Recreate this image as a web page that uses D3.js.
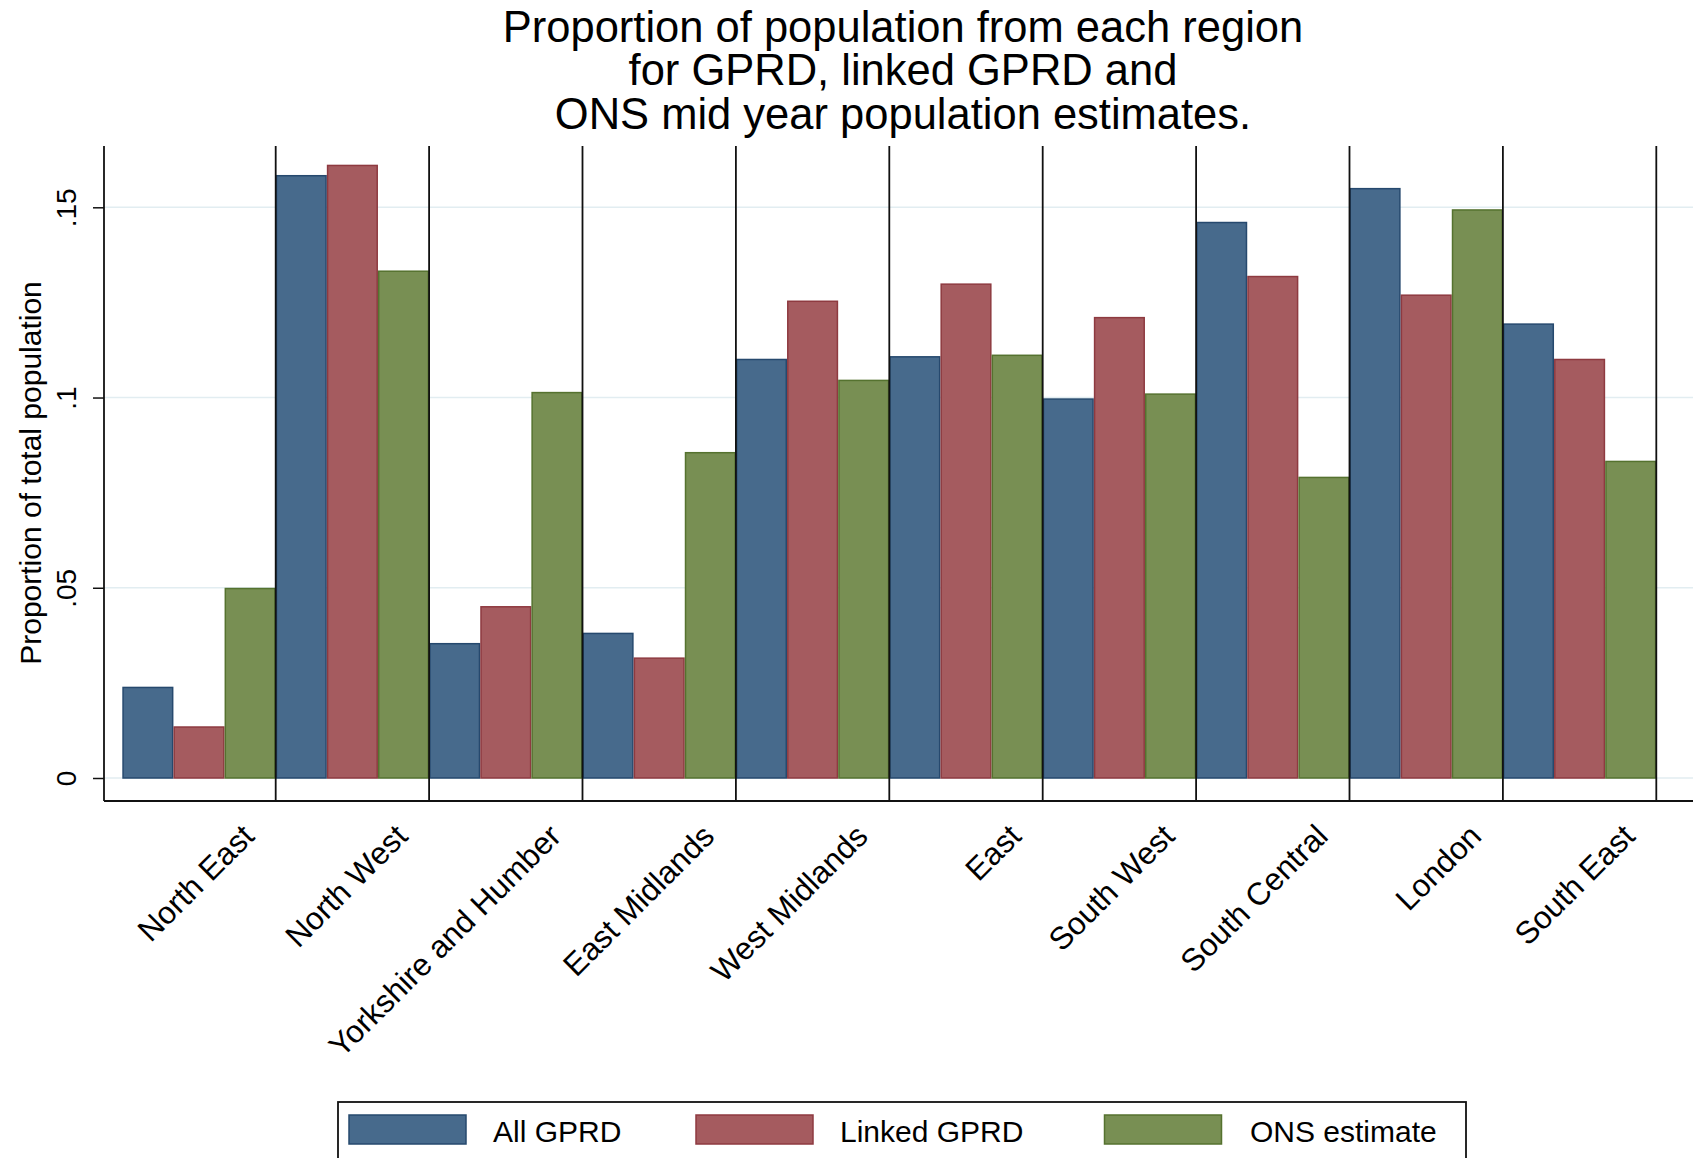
<!DOCTYPE html>
<html>
<head>
<meta charset="utf-8">
<script src="https://cdn.jsdelivr.net/npm/d3@7"></script>
<style>
  body { margin: 0; background: #fff; }
  svg { display: block; font-family: "Liberation Sans", Arial, sans-serif; }
</style>
</head>
<body>
<div class="g-graphic"></div>
<script>
var regions = ["North East", "North West", "Yorkshire and Humber", "East Midlands", "West Midlands",
    "East", "South West", "South Central", "London", "South East"];

var seriesNames = ["All GPRD", "Linked GPRD", "ONS estimate"];

var allGPRD    = [0.0238, 0.1583, 0.0353, 0.0380, 0.1100, 0.1107, 0.0996, 0.1460, 0.1549, 0.1193];
var linkedGPRD = [0.0134, 0.1610, 0.0450, 0.0315, 0.1253, 0.1298, 0.1210, 0.1318, 0.1269, 0.1100];
var onsEstimate = [0.0498, 0.1332, 0.1013, 0.0855, 0.1045, 0.1111, 0.1009, 0.0790, 0.1493, 0.0832];

var yTicks = [0, 0.05, 0.1, 0.15];
var yTickLabels = ["0", ".05", ".1", ".15"];

var titleLines = ["Proportion of population from each region", "for GPRD, linked GPRD and",
    "ONS mid year population estimates."];

(function(d3) {
    "use strict";

    var width = 1693,
    height = 1158,
    plot = { left: 104, right: 1693, top: 146, bottom: 801 },
    barsLeft = 122.3,
    barsRight = 1656.3;

    var fills = ["#476a8c", "#a55b5f", "#788f53"],
    strokes = ["#26496e", "#8e3a40", "#55722f"];

    var data = regions.map(function(r, i) {
        return { region: r, values: [allGPRD[i], linkedGPRD[i], onsEstimate[i]] };
    });

    var x0 = d3.scaleBand().domain(regions).range([barsLeft, barsRight]).padding(0);
    var x1 = d3.scaleBand().domain(d3.range(seriesNames.length)).range([0, x0.bandwidth()]).padding(0);
    var y = d3.scaleLinear().domain([0, 0.15]).range([778, 207.3]);

    var svg = d3.select(".g-graphic").append("svg")
        .attr("width", width)
        .attr("height", height);

    // title
    svg.append("text")
        .attr("x", 903)
        .attr("y", 41.7)
        .attr("text-anchor", "middle")
        .style("font-size", "43.5px")
        .selectAll("tspan")
        .data(titleLines)
        .join("tspan")
        .attr("x", 903)
        .attr("dy", function(d, i) { return i === 0 ? 0 : 43.4; })
        .text(function(d) { return d; });

    // grid lines
    svg.append("g")
        .selectAll("line")
        .data(yTicks)
        .join("line")
        .attr("x1", plot.left)
        .attr("x2", plot.right)
        .attr("y1", function(d) { return y(d); })
        .attr("y2", function(d) { return y(d); })
        .attr("stroke", "#e2edf1")
        .attr("stroke-width", 1.6);

    // bars
    var groups = svg.append("g")
        .selectAll("g")
        .data(data)
        .join("g")
        .attr("transform", function(d) { return "translate(" + x0(d.region) + ",0)"; });

    groups.selectAll("rect")
        .data(function(d) { return d.values; })
        .join("rect")
        .attr("x", function(d, i) { return x1(i) + 0.75; })
        .attr("width", x1.bandwidth() - 1.5)
        .attr("y", function(d) { return y(d); })
        .attr("height", function(d) { return y(0) - y(d); })
        .attr("fill", function(d, i) { return fills[i]; })
        .attr("stroke", function(d, i) { return strokes[i]; })
        .attr("stroke-width", 1.5);

    // group separators
    var seps = regions.slice(1).map(function(r) { return x0(r); }).concat([barsRight]);
    svg.append("g")
        .selectAll("line")
        .data(seps)
        .join("line")
        .attr("x1", function(d) { return d; })
        .attr("x2", function(d) { return d; })
        .attr("y1", plot.top)
        .attr("y2", plot.bottom)
        .attr("stroke", "#111")
        .attr("stroke-width", 1.8);

    // axes lines
    svg.append("line")
        .attr("x1", plot.left).attr("x2", plot.left)
        .attr("y1", plot.top).attr("y2", plot.bottom)
        .attr("stroke", "#111").attr("stroke-width", 1.8);
    svg.append("line")
        .attr("x1", plot.left).attr("x2", plot.right)
        .attr("y1", plot.bottom).attr("y2", plot.bottom)
        .attr("stroke", "#111").attr("stroke-width", 1.8);

    // y ticks + labels
    var yAxis = d3.axisLeft(y)
        .tickValues(yTicks)
        .tickSize(11)
        .tickFormat(function(d, i) { return yTickLabels[i]; });

    var gy = svg.append("g")
        .attr("transform", "translate(" + plot.left + ",0)")
        .call(yAxis);
    gy.select(".domain").remove();
    gy.selectAll(".tick line").attr("stroke", "#111").attr("stroke-width", 1.5);
    gy.selectAll(".tick text")
        .attr("x", null).attr("dy", null)
        .attr("transform", "translate(-28,0) rotate(-90)")
        .attr("text-anchor", "middle")
        .attr("fill", "#000")
        .style("font-family", "'Liberation Sans', Arial, sans-serif")
        .style("font-size", "28px");

    // y title
    svg.append("text")
        .attr("transform", "translate(41,473) rotate(-90)")
        .attr("text-anchor", "middle")
        .style("font-size", "30px")
        .text("Proportion of total population");

    // x labels
    svg.append("g")
        .selectAll("text")
        .data(regions)
        .join("text")
        .attr("transform", function(d) {
            return "translate(" + (x0(d) + x0.bandwidth() / 2 + 57) + ",838) rotate(-45)";
        })
        .attr("text-anchor", "end")
        .style("font-size", "31.5px")
        .text(function(d) { return d; });

    // legend
    var legend = svg.append("g");
    legend.append("rect")
        .attr("x", 338).attr("y", 1102)
        .attr("width", 1128).attr("height", 60)
        .attr("fill", "#fff")
        .attr("stroke", "#111")
        .attr("stroke-width", 1.8);

    var swatchX = [349, 696, 1104.5],
    labelX = [493, 840, 1250];

    var items = legend.selectAll("g.item")
        .data(seriesNames)
        .join("g")
        .attr("class", "item");

    items.append("rect")
        .attr("x", function(d, i) { return swatchX[i]; })
        .attr("y", 1115)
        .attr("width", 117)
        .attr("height", 29)
        .attr("fill", function(d, i) { return fills[i]; })
        .attr("stroke", function(d, i) { return strokes[i]; })
        .attr("stroke-width", 1.5);

    items.append("text")
        .attr("x", function(d, i) { return labelX[i]; })
        .attr("y", 1142)
        .style("font-size", "30px")
        .text(function(d) { return d; });

})(d3);
</script>
</body>
</html>
